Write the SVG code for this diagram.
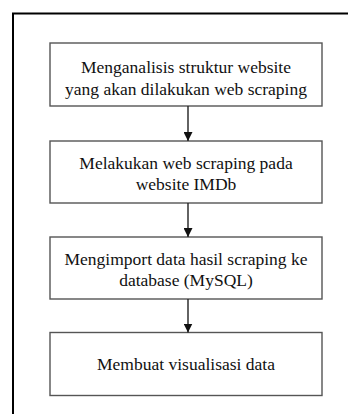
<svg xmlns="http://www.w3.org/2000/svg" width="348" height="414" viewBox="0 0 348 414">
<style>
.box{fill:#fff;stroke:#555;stroke-width:1.4}
.t{font-family:"Liberation Serif","Times New Roman",serif;font-size:17.5px;fill:#111;text-anchor:middle}
.c{stroke:#222;stroke-width:1.4;fill:none}
</style>
<defs>
<marker id="ah" viewBox="0 0 10 10" refX="10" refY="5" markerWidth="9" markerHeight="9" markerUnits="userSpaceOnUse" orient="auto">
<path d="M0,0 L10,5 L0,10 Z" fill="#111"/>
</marker>
</defs>
<rect width="348" height="414" fill="#fff"/>
<path d="M13,414 L13,13.5 L348,13.5" fill="none" stroke="#000" stroke-width="2"/>
<g id="n1"><rect class="box" x="50" y="43" width="272" height="63"/>
<text class="t" x="186" y="73">Menganalisis struktur website</text>
<text class="t" x="186" y="95">yang akan dilakukan web scraping</text></g>
<g id="n2"><rect class="box" x="50" y="141" width="272" height="62"/>
<text class="t" x="186" y="168.5">Melakukan web scraping pada</text>
<text class="t" x="186" y="190">website IMDb</text></g>
<g id="n3"><rect class="box" x="50" y="237" width="272" height="62"/>
<text class="t" x="186" y="264.5">Mengimport data hasil scraping ke</text>
<text class="t" x="186" y="286">database (MySQL)</text></g>
<g id="n4"><rect class="box" x="50" y="332.5" width="272" height="63"/>
<text class="t" x="186" y="370">Membuat visualisasi data</text></g>
<g id="connectors">
<line class="c" x1="188" y1="106" x2="188" y2="141" marker-end="url(#ah)"/>
<line class="c" x1="188" y1="203" x2="188" y2="237" marker-end="url(#ah)"/>
<line class="c" x1="188" y1="299" x2="188" y2="332.5" marker-end="url(#ah)"/>
</g>
</svg>
